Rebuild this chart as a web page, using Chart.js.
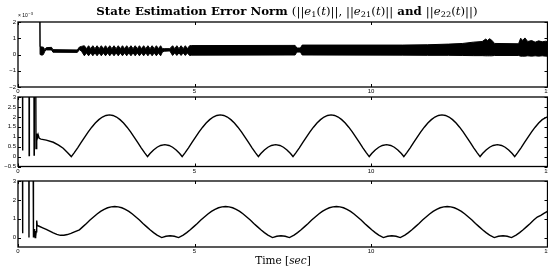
<!DOCTYPE html>
<html>
<head>
<meta charset="utf-8">
<script src="https://cdn.jsdelivr.net/npm/chart.js@4"></script>
<style>
html, body { margin: 0; padding: 0; background: #fff; width: 548px; height: 268px; overflow: hidden; position: relative; }
canvas { position: absolute; left: 0; }
#title { position: absolute; top: 5px; left: 0; width: 574px; text-align: center; font: bold 11px "DejaVu Serif", serif; white-space: nowrap; color: #000; transform: scaleX(1.07); transform-origin: 287px 50%; will-change: transform; }
#title .m { font-weight: normal; }
sub { font-size: 70%; vertical-align: -2px; line-height: 0; }
#xlabel { position: absolute; top: 254px; left: 0; width: 566px; text-align: center; font: 10.5px "DejaVu Serif", serif; color: #000; }
</style>
</head>
<body>
<div id="title">State Estimation Error Norm <span class="m">(||<i>e</i><sub>1</sub>(<i>t</i>)||, ||<i>e</i><sub>21</sub>(<i>t</i>)||</span> and <span class="m">||<i>e</i><sub>22</sub>(<i>t</i>)||)</span></div>
<canvas id="c1" width="560" height="100" style="top:0"></canvas>
<canvas id="c2" width="560" height="90" style="top:88px"></canvas>
<canvas id="c3" width="560" height="96" style="top:172px"></canvas>
<div id="xlabel">Time [<i>sec</i>]</div>
<script>
// ||e1(t)|| is a dense noisy band, kept as its upper / lower envelope (units of 10^-3)
const e1Time = [
  0, 0.615, 0.625, 0.68, 0.72, 0.76, 0.8, 0.95, 0.99, 1.68, 1.74, 1.8,
  1.88, 1.94, 2.00, 2.06, 2.12, 2.18, 2.24, 2.30, 2.36, 2.42, 2.48, 2.54, 2.60, 2.66, 2.72, 2.78, 2.84, 2.90, 2.96,
  3.02, 3.08, 3.14, 3.20, 3.26, 3.32, 3.38, 3.44, 3.50, 3.56, 3.62, 3.68, 3.74, 3.80, 3.86, 3.92, 3.98, 4.04,
  4.09, 4.14, 4.3, 4.38, 4.44, 4.50, 4.56, 4.62, 4.68, 4.74, 4.80, 4.86, 4.92,
  7.85, 7.9, 8.0, 8.05, 10.9, 11.6, 12.2, 12.6, 12.9, 13.15, 13.25, 13.3, 13.36, 13.42, 13.5,
  14.18, 14.24, 14.3, 14.36, 14.44, 14.55, 14.65, 14.75, 14.85, 14.95, 15
];
const e1Upper = [
  5, 5, 0.48, 0.46, 0.45, 0.3, 0.42, 0.44, 0.3, 0.28, 0.46, 0.5,
  0.54, 0.36, 0.54, 0.36, 0.54, 0.36, 0.54, 0.36, 0.54, 0.36, 0.54, 0.36, 0.54, 0.36, 0.54, 0.36, 0.54, 0.36, 0.54,
  0.36, 0.54, 0.36, 0.54, 0.36, 0.54, 0.36, 0.54, 0.36, 0.54, 0.36, 0.54, 0.36, 0.54, 0.36, 0.54, 0.36, 0.54,
  0.36, 0.36, 0.36, 0.54, 0.36, 0.54, 0.36, 0.54, 0.36, 0.54, 0.36, 0.54, 0.55,
  0.56, 0.4, 0.4, 0.58, 0.58, 0.6, 0.64, 0.68, 0.76, 0.8, 0.95, 0.86, 0.97, 0.88, 0.68,
  0.66, 1.0, 0.86, 1.02, 0.8, 0.86, 0.76, 0.84, 0.78, 0.82, 0.78
];
const e1Lower = [
  5, 5, 0.0, -0.04, 0.0, 0.2, 0.28, 0.28, 0.14, 0.13, 0.3, 0.2,
  -0.08, 0.1, -0.08, 0.1, -0.08, 0.1, -0.08, 0.1, -0.08, 0.1, -0.08, 0.1, -0.08, 0.1, -0.08, 0.1, -0.08, 0.1, -0.08,
  0.1, -0.08, 0.1, -0.08, 0.1, -0.08, 0.1, -0.08, 0.1, -0.08, 0.1, -0.08, 0.1, -0.08, 0.1, -0.08, 0.1, -0.08,
  0.15, 0.2, 0.22, -0.06, 0.1, -0.06, 0.1, -0.06, 0.1, -0.06, 0.1, -0.06, -0.04,
  -0.03, 0.15, 0.15, -0.03, -0.04, -0.05, -0.05, -0.06, -0.07, -0.07, -0.08, -0.08, -0.08, -0.08, -0.06,
  -0.06, -0.1, -0.1, -0.1, -0.08, -0.1, -0.08, -0.1, -0.08, -0.1, -0.1
];
const e1Ticks = [-2, -1, 0, 1, 2];

// ||e21(t)||
const e21Time = [
  0, 0.125, 0.13, 0.135, 0.31, 0.316, 0.322, 0.45, 0.456, 0.462, 0.5, 0.51, 0.53, 0.55, 0.57, 0.6, 0.65, 0.8, 1.0, 1.15, 1.28, 1.4,
  1.51, 1.59, 1.69, 1.79, 1.89, 1.99, 2.09, 2.19, 2.29, 2.39, 2.49, 2.59, 2.69, 2.79, 2.89, 2.99, 3.09, 3.19, 3.29, 3.39, 3.49, 3.59, 3.67, 3.74, 3.84, 3.94, 4.04,
  4.16, 4.28, 4.38, 4.48, 4.58, 4.65, 4.73, 4.83, 4.93, 5.03, 5.13, 5.23, 5.33, 5.43, 5.53, 5.63, 5.73, 5.83, 5.93, 6.03, 6.13, 6.23, 6.33, 6.43, 6.53, 6.63, 6.73, 6.81, 6.88, 6.98, 7.08, 7.18,
  7.30, 7.42, 7.52, 7.62, 7.72, 7.79, 7.87, 7.97, 8.07, 8.17, 8.27, 8.37, 8.47, 8.57, 8.67, 8.77, 8.87, 8.97, 9.07, 9.17, 9.27, 9.37, 9.47, 9.57, 9.67, 9.77, 9.87, 9.95, 10.02, 10.12, 10.22, 10.32,
  10.44, 10.56, 10.66, 10.76, 10.86, 10.93, 11.01, 11.11, 11.21, 11.31, 11.41, 11.51, 11.61, 11.71, 11.81, 11.91, 12.01, 12.11, 12.21, 12.31, 12.41, 12.51, 12.61, 12.71, 12.81, 12.91, 13.01, 13.09, 13.16, 13.26, 13.36, 13.46,
  13.58, 13.70, 13.80, 13.90, 14.00, 14.07, 14.15, 14.25, 14.35, 14.45, 14.55, 14.65, 14.75, 14.85, 14.95, 15.05
];
const e21Norm = [
  6, 6, 0.3, 6, 6, 0.05, 6, 6, 0.08, 6, 6, 0.4, 1.15, 0.95, 1.1, 0.92, 0.88, 0.83, 0.72, 0.58, 0.42, 0.2,
  0, 0.19, 0.44, 0.71, 0.98, 1.24, 1.48, 1.69, 1.86, 1.99, 2.07, 2.10, 2.07, 1.99, 1.86, 1.69, 1.48, 1.24, 0.98, 0.71, 0.44, 0.19, 0, 0.15, 0.33, 0.47, 0.56,
  0.60, 0.56, 0.47, 0.33, 0.15, 0, 0.19, 0.44, 0.71, 0.98, 1.24, 1.48, 1.69, 1.86, 1.99, 2.07, 2.10, 2.07, 1.99, 1.86, 1.69, 1.48, 1.24, 0.98, 0.71, 0.44, 0.19, 0, 0.15, 0.33, 0.47, 0.56,
  0.60, 0.56, 0.47, 0.33, 0.15, 0, 0.19, 0.44, 0.71, 0.98, 1.24, 1.48, 1.69, 1.86, 1.99, 2.07, 2.10, 2.07, 1.99, 1.86, 1.69, 1.48, 1.24, 0.98, 0.71, 0.44, 0.19, 0, 0.15, 0.33, 0.47, 0.56,
  0.60, 0.56, 0.47, 0.33, 0.15, 0, 0.19, 0.44, 0.71, 0.98, 1.24, 1.48, 1.69, 1.86, 1.99, 2.07, 2.10, 2.07, 1.99, 1.86, 1.69, 1.48, 1.24, 0.98, 0.71, 0.44, 0.19, 0, 0.15, 0.33, 0.47, 0.56,
  0.60, 0.56, 0.47, 0.33, 0.15, 0, 0.19, 0.44, 0.71, 0.98, 1.24, 1.48, 1.69, 1.86, 1.96, 2.03
];
const e21Ticks = [-0.5, 0, 0.5, 1, 1.5, 2, 2.5, 3];

// ||e22(t)||
const e22Time = [
  0, 0.125, 0.13, 0.135, 0.305, 0.311, 0.317, 0.425, 0.431, 0.437, 0.445, 0.455, 0.465, 0.475, 0.485, 0.495, 0.505, 0.515, 0.53, 0.545, 0.6, 0.7, 0.8, 0.9, 1.0, 1.1, 1.2, 1.3, 1.4, 1.5, 1.6,
  1.74, 1.84, 1.94, 2.04, 2.14, 2.24, 2.34, 2.44, 2.54, 2.64, 2.74, 2.84, 2.94, 3.04, 3.14, 3.24, 3.34, 3.44, 3.54, 3.64, 3.74, 3.84, 3.94, 4.07, 4.19,
  4.31, 4.43, 4.55, 4.68, 4.78, 4.88, 4.98, 5.08, 5.18, 5.28, 5.38, 5.48, 5.58, 5.68, 5.78, 5.88, 5.98, 6.08, 6.18, 6.28, 6.38, 6.48, 6.58, 6.68, 6.78, 6.88, 6.98, 7.08, 7.21, 7.33,
  7.45, 7.57, 7.69, 7.82, 7.92, 8.02, 8.12, 8.22, 8.32, 8.42, 8.52, 8.62, 8.72, 8.82, 8.92, 9.02, 9.12, 9.22, 9.32, 9.42, 9.52, 9.62, 9.72, 9.82, 9.92, 10.02, 10.12, 10.22, 10.35, 10.47,
  10.59, 10.71, 10.83, 10.96, 11.06, 11.16, 11.26, 11.36, 11.46, 11.56, 11.66, 11.76, 11.86, 11.96, 12.06, 12.16, 12.26, 12.36, 12.46, 12.56, 12.66, 12.76, 12.86, 12.96, 13.06, 13.16, 13.26, 13.36, 13.49, 13.61,
  13.74, 13.86, 13.98, 14.11, 14.21, 14.31, 14.41, 14.51, 14.61, 14.71, 14.81, 14.91, 15.01
];
const e22Norm = [
  6, 6, 0.23, 6, 6, 0, 6, 6, 0, 0.5, 0, 0.45, 0.02, 0.4, 0, 0.35, 0.05, 0.3, 0.9, 0.64, 0.6, 0.52, 0.43, 0.34, 0.25, 0.17, 0.12, 0.12, 0.16, 0.22, 0.3,
  0.41, 0.58, 0.75, 0.93, 1.09, 1.25, 1.39, 1.50, 1.58, 1.63, 1.65, 1.63, 1.58, 1.50, 1.39, 1.25, 1.09, 0.93, 0.75, 0.58, 0.41, 0.26, 0.13, 0, 0.07,
  0.10, 0.07, 0, 0.13, 0.26, 0.41, 0.58, 0.75, 0.93, 1.09, 1.25, 1.39, 1.50, 1.58, 1.63, 1.65, 1.63, 1.58, 1.50, 1.39, 1.25, 1.09, 0.93, 0.75, 0.58, 0.41, 0.26, 0.13, 0, 0.07,
  0.10, 0.07, 0, 0.13, 0.26, 0.41, 0.58, 0.75, 0.93, 1.09, 1.25, 1.39, 1.50, 1.58, 1.63, 1.65, 1.63, 1.58, 1.50, 1.39, 1.25, 1.09, 0.93, 0.75, 0.58, 0.41, 0.26, 0.13, 0, 0.07,
  0.10, 0.07, 0, 0.13, 0.26, 0.41, 0.58, 0.75, 0.93, 1.09, 1.25, 1.39, 1.50, 1.58, 1.63, 1.65, 1.63, 1.58, 1.50, 1.39, 1.25, 1.09, 0.93, 0.75, 0.58, 0.41, 0.26, 0.13, 0, 0.07,
  0.10, 0.07, 0, 0.13, 0.26, 0.41, 0.58, 0.75, 0.93, 1.09, 1.18, 1.30, 1.40
];
const e22Ticks = [0, 1, 2, 3];

const timeTicks = [0, 5, 10, 15];

const pts = (xs, ys) => xs.map((x, i) => ({ x, y: ys[i] }));
const tickFont = { family: 'Liberation Sans', size: 6 };
const fmt = v => String(v).replace('-', '\u2212');

// MATLAB-like box with inward ticks on every side
const frameTicks = {
  id: 'frameTicks',
  afterDraw(chart, args, opts) {
    const { ctx, chartArea: a, scales: { x, y } } = chart;
    ctx.save();
    ctx.strokeStyle = '#000';
    ctx.lineWidth = 1;
    ctx.beginPath();
    x.ticks.forEach(t => {
      const px = Math.round(x.getPixelForValue(t.value)) + 0.5;
      ctx.moveTo(px, a.bottom); ctx.lineTo(px, a.bottom - 3);
      ctx.moveTo(px, a.top); ctx.lineTo(px, a.top + 3);
    });
    y.ticks.forEach(t => {
      const py = Math.round(y.getPixelForValue(t.value)) + 0.5;
      ctx.moveTo(a.left, py); ctx.lineTo(a.left + 3, py);
      ctx.moveTo(a.right, py); ctx.lineTo(a.right - 3, py);
    });
    ctx.stroke();
    ctx.lineWidth = 1.3;
    ctx.strokeRect(a.left, a.top, a.right - a.left, a.bottom - a.top);
    if (opts.exp) {
      ctx.fillStyle = '#000';
      ctx.font = '5px "Liberation Sans"';
      ctx.fillText('\u00d7 10', a.left, a.top - 5);
      const w = ctx.measureText('\u00d7 10').width;
      ctx.font = '4px "Liberation Sans"';
      ctx.fillText('\u22123', a.left + w + 0.5, a.top - 7.5);
    }
    ctx.restore();
  }
};

function makePanel(id, datasets, yTicks, yMin, padTop, xHeight, exp) {
  return new Chart(document.getElementById(id), {
    type: 'line',
    data: { datasets },
    options: {
      responsive: false,
      animation: false,
      events: [],
      layout: { padding: { top: padTop, right: 12.5, left: 0, bottom: 0 } },
      elements: { point: { radius: 0 }, line: { tension: 0 } },
      plugins: { legend: { display: false }, tooltip: { enabled: false }, frameTicks: { exp } },
      scales: {
        x: {
          type: 'linear', min: timeTicks[0], max: timeTicks[timeTicks.length - 1],
          ticks: { font: tickFont, color: '#000', padding: 1, maxRotation: 0, autoSkip: false, callback: fmt },
          afterBuildTicks: s => { s.ticks = timeTicks.map(v => ({ value: v })); },
          grid: { display: false, drawTicks: false },
          border: { display: false },
          afterFit: s => { s.height = xHeight; }
        },
        y: {
          min: yMin, max: yTicks[yTicks.length - 1],
          ticks: { font: tickFont, color: '#000', padding: 2, autoSkip: false, callback: fmt },
          afterBuildTicks: s => { s.ticks = yTicks.map(v => ({ value: v })); },
          grid: { display: false, drawTicks: false },
          border: { display: false },
          afterFit: s => { s.width = 18; }
        }
      }
    },
    plugins: [frameTicks]
  });
}

const line = (data, extra) => Object.assign({ data, borderColor: '#000', borderWidth: 1.4, fill: false }, extra || {});

makePanel('c1', [
  line(pts(e1Time, e1Upper), { borderWidth: 1, fill: '+1', backgroundColor: '#000' }),
  line(pts(e1Time, e1Lower), { borderWidth: 1 })
], e1Ticks, -2, 22, 13, true);

makePanel('c2', [line(pts(e21Time, e21Norm))], e21Ticks, -0.5, 9, 11.5, false);

makePanel('c3', [line(pts(e22Time, e22Norm))], e22Ticks, -0.5, 9, 21, false);
</script>
</body>
</html>
